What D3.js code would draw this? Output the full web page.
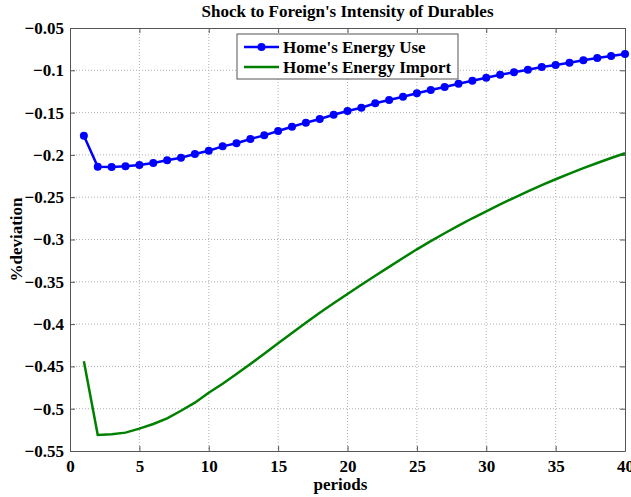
<!DOCTYPE html>
<html>
<head>
<meta charset="utf-8">
<script src="https://cdn.jsdelivr.net/npm/d3@7"></script>
<style>
  body { margin: 0; background: #fff; }
  text { font-family: "Liberation Serif", "Times New Roman", serif; font-weight: bold; }
</style>
</head>
<body>
<svg id="chart" width="631" height="497"></svg>
<script>
// data
const periods = d3.range(1, 41);
const energyUse = [
  -0.1773, -0.2139, -0.2143, -0.2135, -0.2119, -0.2096, -0.2064, -0.2033, -0.1989, -0.1950,
  -0.1899, -0.1863, -0.1812, -0.1769, -0.1717, -0.1667, -0.1619, -0.1576, -0.1525, -0.1481,
  -0.1442, -0.1390, -0.1351, -0.1312, -0.1272, -0.1233, -0.1197, -0.1158, -0.1123, -0.1087,
  -0.1052, -0.1024, -0.0993, -0.0961, -0.0937, -0.0910, -0.0882, -0.0855, -0.0831, -0.0807
];
const energyImport = [
  -0.4440, -0.5310, -0.5303, -0.5283, -0.5236, -0.5181, -0.5114, -0.5024, -0.4929, -0.4811,
  -0.4705, -0.4590, -0.4472, -0.4350, -0.4227, -0.4104, -0.3983, -0.3865, -0.3754, -0.3644,
  -0.3535, -0.3428, -0.3323, -0.3219, -0.3116, -0.3019, -0.2926, -0.2836, -0.2749, -0.2667,
  -0.2585, -0.2507, -0.2431, -0.2358, -0.2288, -0.2221, -0.2157, -0.2096, -0.2037, -0.1980
];
const xTicks = [0, 5, 10, 15, 20, 25, 30, 35, 40];
const yTicks = [-0.55, -0.5, -0.45, -0.4, -0.35, -0.3, -0.25, -0.2, -0.15, -0.1, -0.05];
const seriesNames = ["Home's Energy Use", "Home's Energy Import"];
const seriesColors = ["#0000ff", "#008000"];

const width = 631, height = 497;
const margin = {top: 28, right: 6, bottom: 46, left: 70};
const innerW = width - margin.left - margin.right;
const innerH = height - margin.top - margin.bottom;

const svg = d3.select('#chart');
const g = svg.append('g')
  .attr('transform', `translate(${margin.left}, ${margin.top})`);

const x = d3.scaleLinear().domain([0, 40]).range([0, innerW]);
const y = d3.scaleLinear().domain([-0.55, -0.05]).range([innerH, 0]);

// grid
g.append('g')
  .selectAll('line')
  .data(xTicks.slice(1, -1))
  .join('line')
    .attr('x1', (d) => x(d)).attr('x2', (d) => x(d))
    .attr('y1', 0).attr('y2', innerH)
    .style('stroke', '#b0b0b0')
    .style('stroke-dasharray', '1,2');
g.append('g')
  .selectAll('line')
  .data(yTicks.slice(1, -1))
  .join('line')
    .attr('x1', 0).attr('x2', innerW)
    .attr('y1', (d) => y(d)).attr('y2', (d) => y(d))
    .style('stroke', '#b0b0b0')
    .style('stroke-dasharray', '1,2');

// axes (ticks point inward, MATLAB style)
const xAxis = g.append('g')
  .attr('transform', `translate(0, ${innerH})`)
  .call(d3.axisBottom(x).tickValues(xTicks).tickSizeInner(-5).tickSizeOuter(0).tickPadding(9));
const xAxisTop = g.append('g')
  .call(d3.axisTop(x).tickValues(xTicks).tickSizeInner(-5).tickSizeOuter(0).tickFormat(''));
const yAxis = g.append('g')
  .call(d3.axisLeft(y).tickValues(yTicks).tickSizeInner(-5).tickSizeOuter(0).tickPadding(6)
    .tickFormat((d) => d3.format('')(+d.toFixed(2))));
const yAxisRight = g.append('g')
  .attr('transform', `translate(${innerW}, 0)`)
  .call(d3.axisRight(y).tickValues(yTicks).tickSizeInner(-5).tickSizeOuter(0).tickFormat(''));

[xAxis, xAxisTop, yAxis, yAxisRight].forEach((a) => {
  a.select('.domain').style('stroke', '#555').style('stroke-width', 1);
  a.selectAll('.tick line').style('stroke', '#555');
  a.selectAll('text')
    .style('font-size', '17px')
    .style('fill', '#000');
});

// series
const line = d3.line()
  .x((d, i) => x(periods[i]))
  .y((d) => y(d));

g.append('path')
  .datum(energyImport)
  .attr('d', line)
  .style('fill', 'none')
  .style('stroke', seriesColors[1])
  .style('stroke-width', 2.5);

g.append('path')
  .datum(energyUse)
  .attr('d', line)
  .style('fill', 'none')
  .style('stroke', seriesColors[0])
  .style('stroke-width', 2.5);

g.selectAll('.dot')
  .data(energyUse)
  .join('circle')
    .attr('class', 'dot')
    .attr('cx', (d, i) => x(periods[i]))
    .attr('cy', (d) => y(d))
    .attr('r', 4)
    .style('fill', seriesColors[0]);

// title and axis labels
svg.append('text')
  .attr('x', margin.left + innerW / 2)
  .attr('y', 17)
  .attr('text-anchor', 'middle')
  .style('font-size', '17px')
  .text("Shock to Foreign's Intensity of Durables");

svg.append('text')
  .attr('x', margin.left + innerW / 2 - 7)
  .attr('y', 490)
  .attr('text-anchor', 'middle')
  .style('font-size', '17px')
  .text('periods');

svg.append('text')
  .attr('transform', `translate(22, ${margin.top + innerH / 2}) rotate(-90)`)
  .attr('text-anchor', 'middle')
  .style('font-size', '17px')
  .text('%deviation');

// legend
const legend = svg.append('g')
  .attr('transform', 'translate(237, 34)');
legend.append('rect')
  .attr('width', 221)
  .attr('height', 45)
  .style('fill', '#fff')
  .style('stroke', '#555')
  .style('stroke-width', 1);

seriesNames.forEach((name, i) => {
  const ly = 13 + i * 20;
  legend.append('line')
    .attr('x1', 7).attr('x2', 42)
    .attr('y1', ly).attr('y2', ly)
    .style('stroke', seriesColors[i])
    .style('stroke-width', 2.5);
  if (i === 0) {
    legend.append('circle')
      .attr('cx', 24.5).attr('cy', ly)
      .attr('r', 4)
      .style('fill', seriesColors[i]);
  }
  legend.append('text')
    .attr('x', 46)
    .attr('y', ly + 6)
    .style('font-size', '17px')
    .text(name);
});
</script>
</body>
</html>
